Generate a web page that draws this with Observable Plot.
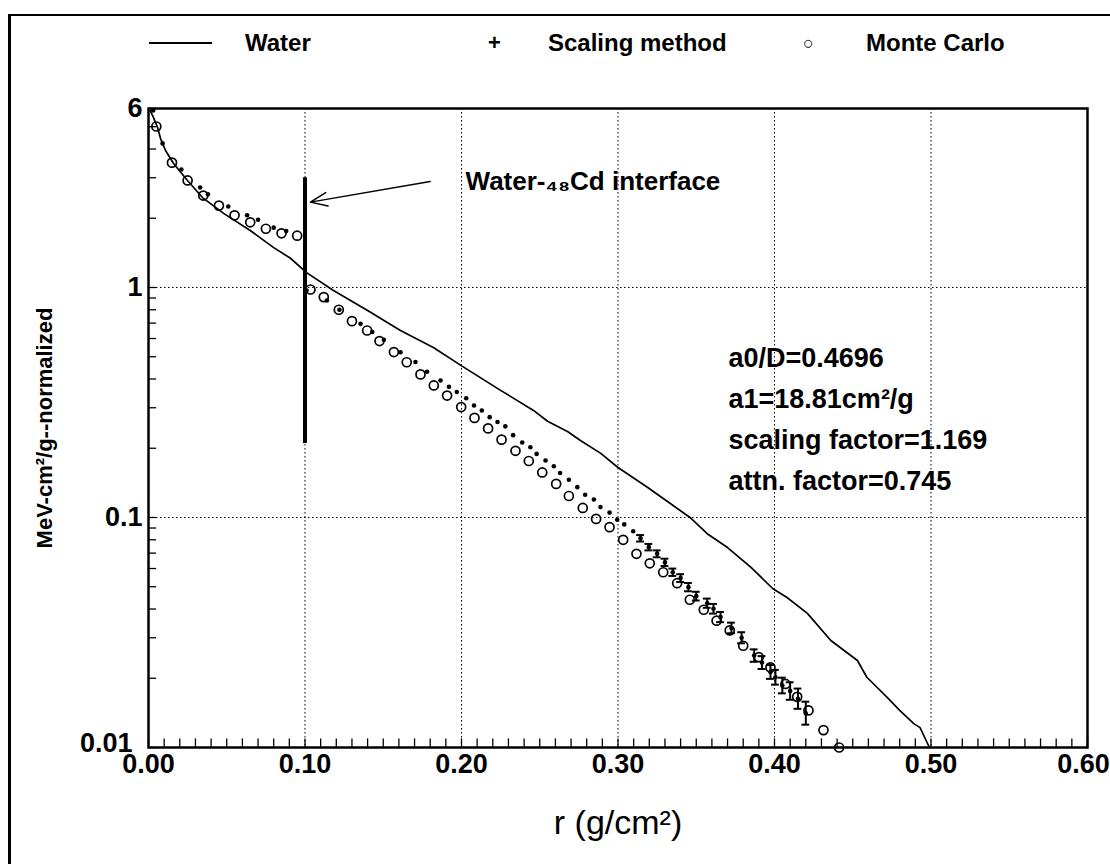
<!DOCTYPE html>
<html>
<head>
<meta charset="utf-8">
<script src="https://cdn.jsdelivr.net/npm/d3@7"></script>
<script src="https://cdn.jsdelivr.net/npm/@observablehq/plot@0.6"></script>
<style>
  html, body { margin: 0; padding: 0; background: #fff; }
  #wrap { position: relative; width: 1110px; height: 864px; overflow: hidden; font-family: "Liberation Sans", Arial, sans-serif; }
  #border { position: absolute; left: 8px; top: 14px; width: 1110px; height: 900px; border-left: 3px solid #000; border-top: 2px solid #000; }
  .leg { position: absolute; top: 29px; line-height: 28px; font-size: 24px; font-weight: bold; color: #000; white-space: nowrap; }
  #legline { position: absolute; left: 149px; top: 42px; width: 63px; border-top: 2px solid #000; }
  #chart { position: absolute; left: 0; top: 80px; }
</style>
</head>
<body>
<div id="wrap">
  <div id="border"></div>
  <div id="legline"></div>
  <div class="leg" style="left:245px">Water</div>
  <div class="leg" style="left:488px;font-size:22px">+</div>
  <div class="leg" style="left:548px">Scaling method</div>
  <div class="leg" style="left:803px;font-size:18px;font-weight:normal">○</div>
  <div class="leg" style="left:866px">Monte Carlo</div>
  <div id="chart"></div>
</div>
<script>
// ---- data ----
const waterR = [0.001,0.0032,0.0058,0.0077,0.0109,0.016,0.0249,0.0345,0.048,0.065,0.080,0.0907,0.101,0.1182,0.140,0.161,0.182,0.2006,0.225,0.246,0.255,0.268,0.276,0.289,0.300,0.319,0.335,0.346,0.357,0.370,0.385,0.399,0.408,0.421,0.436,0.453,0.459,0.472,0.480,0.489,0.493,0.499];
const waterV = [5.9,5.48,4.96,4.44,3.94,3.46,2.92,2.46,2.10,1.77,1.49,1.34,1.16,0.97,0.794,0.65,0.548,0.454,0.357,0.292,0.262,0.236,0.216,0.19,0.165,0.135,0.113,0.1,0.085,0.074,0.0607,0.049,0.0449,0.0383,0.0292,0.0239,0.0202,0.0165,0.0145,0.0127,0.0122,0.0100];

const scaleR = [0.003,0.009,0.021,0.033,0.038,0.051,0.063,0.070,0.080,0.088,
  0.101,0.114,0.122,0.1355,0.143,0.1504,0.161,0.1706,0.178,0.1866,0.192,0.197,0.203,0.208,0.213,0.218,0.223,0.228,0.233,0.2388,0.244,0.248,0.2537,0.259,0.263,0.2686,0.274,0.279,0.2846,0.2888,0.2946,0.2995,0.304,0.3097,
  0.3144,0.3197,0.325,0.330,0.335,0.340,0.345,0.350,0.357,0.361,0.3655,0.3725,0.379,0.387,0.392,0.3974,0.4006,0.405,0.410,0.415,0.420];
const scaleV = [5.88,4.23,3.26,2.72,2.54,2.25,2.06,1.97,1.82,1.76,
  0.97,0.878,0.80,0.695,0.64,0.593,0.523,0.474,0.43,0.394,0.37,0.351,0.33,0.307,0.292,0.273,0.26,0.249,0.228,0.212,0.202,0.189,0.177,0.167,0.156,0.146,0.1355,0.1256,0.1197,0.111,0.105,0.0977,0.0933,0.0871,
  0.0812,0.0743,0.0695,0.0638,0.0578,0.0545,0.0498,0.0455,0.0424,0.0401,0.0369,0.0331,0.030,0.0251,0.0234,0.0213,0.0202,0.0186,0.0176,0.0163,0.0141];
// error bar half-widths (decades) for the scaling points that carry one
const scaleErr = [null,null,null,null,null,null,null,null,null,null,
  null,null,null,null,null,null,null,null,null,null,null,null,null,null,null,null,null,null,null,null,null,null,null,null,null,null,null,null,null,null,null,null,null,null,
  0.014,0.014,0.015,0.016,0.016,0.017,0.018,0.019,0.020,0.021,0.022,0.023,0.024,0.027,0.028,0.030,0.032,0.034,0.038,0.044,0.050];

const mcR = [0.005,0.015,0.025,0.035,0.045,0.055,0.065,0.075,0.085,0.095,
  0.1035,0.112,0.1216,0.130,0.1397,0.1476,0.1568,0.165,0.1738,0.1823,0.1908,0.1998,0.2083,0.217,0.2256,0.2345,0.243,0.2516,0.2605,0.2686,0.2775,0.286,0.2946,0.3033,0.3118,0.3203,0.3289,0.3378,0.3459,0.3548,0.363,0.3714,0.380,0.390,0.3974,0.407,0.4145,0.4217,0.4313,0.4413];
const mcV = [5.01,3.49,2.92,2.51,2.27,2.06,1.92,1.80,1.72,1.68,
  0.98,0.908,0.80,0.714,0.65,0.585,0.524,0.473,0.419,0.375,0.339,0.302,0.271,0.244,0.218,0.195,0.176,0.157,0.140,0.124,0.110,0.0986,0.0908,0.080,0.0695,0.0632,0.0578,0.0518,0.0439,0.0397,0.0356,0.0323,0.0277,0.0247,0.0223,0.0189,0.0166,0.0145,0.0119,0.0100];

const xTicks = [0, 0.1, 0.2, 0.3, 0.4, 0.5, 0.6];
const yTicks = [0.01, 0.1, 1, 6];
const xGrid = [0.1, 0.2, 0.3, 0.4, 0.5];
const yGrid = [0.1, 1];
const interfaceX = 0.1, interfaceTop = 3.0, interfaceBottom = 0.21;
const interfaceLabel = "Water-₄₈Cd interface";
const annotLines = ["a0/D=0.4696", "a1=18.81cm²/g", "scaling factor=1.169", "attn. factor=0.745"];
const xLabel = "r (g/cm²)";
const yLabel = "MeV-cm²/g--normalized";

// ---- tables ----
const water = waterR.map((r, i) => ({r, v: waterV[i]}));
const scaling = scaleR.map((r, i) => ({r, v: scaleV[i], e: scaleErr[i]}));
const errs = scaling.filter(d => d.e != null).map(d => ({r: d.r, lo: d.v * Math.pow(10, -d.e), hi: d.v * Math.pow(10, d.e)}));
const mc = mcR.map((r, i) => ({r, v: mcV[i]}));
const xMinor = d3.range(0, 61).map(i => i / 100);
const yMinor = [];
for (const dec of [0.01, 0.1, 1]) for (let k = 1; k <= 9; k++) { const v = dec * k; if (v <= 6.0001) yMinor.push(v); }

const font = "'Liberation Sans', Arial, sans-serif";
const tickStyle = {tickSize: 0, fontSize: 27, fontWeight: "bold", label: null};

const chart = Plot.plot({
  width: 1110,
  height: 784,
  marginTop: 28,
  marginBottom: 117,
  marginLeft: 148,
  marginRight: 23,
  style: {fontFamily: font, background: "transparent", overflow: "visible", color: "#000"},
  x: {domain: [0, 0.6]},
  y: {type: "log", domain: [0.01, 6]},
  marks: [
    Plot.ruleX(xGrid, {stroke: "#000", strokeWidth: 1, strokeDasharray: "1.5,2.5"}),
    Plot.ruleY(yGrid, {stroke: "#000", strokeWidth: 1, strokeDasharray: "1.5,2.5"}),
    // minor ticks (inside the frame)
    Plot.ruleX(xMinor, {y1: 0.01, y2: 0.0109, stroke: "#000", strokeWidth: 1.3}),
    Plot.ruleY(yMinor, {x1: 0, x2: 0.0052, stroke: "#000", strokeWidth: 1.3}),
    Plot.axisX(xTicks.slice(0, 6), {...tickStyle, tickPadding: 6, tickFormat: d3.format(".2f")}),
    Plot.axisX(xTicks.slice(6), {...tickStyle, tickPadding: 6, dx: -4, tickFormat: d3.format(".2f")}),
    Plot.axisY(yTicks.slice(1), {...tickStyle, tickPadding: 6, tickFormat: d => String(d)}),
    Plot.axisY(yTicks.slice(0, 1), {...tickStyle, tickPadding: 6, dx: -10, dy: -4, tickFormat: d => String(d)}),
    Plot.frame({stroke: "#000", strokeWidth: 2.5}),
    // interface
    Plot.ruleX([interfaceX], {y1: interfaceTop, y2: interfaceBottom, stroke: "#000", strokeWidth: 4}),
    Plot.arrow([0], {x1: 0.18, y1: 2.89, x2: 0.1035, y2: 2.35, stroke: "#000", strokeWidth: 1.5, headLength: 18, headAngle: 45}),
    Plot.text([interfaceLabel], {x: 0.2026, y: 2.89, text: d => d, textAnchor: "start", fontSize: 26, fontWeight: "bold", fill: "#000"}),
    // data
    Plot.line(water, {x: "r", y: "v", stroke: "#000", strokeWidth: 1.7}),
    Plot.ruleX(errs, {x: "r", y1: "lo", y2: "hi", stroke: "#000", strokeWidth: 2}),
    Plot.ruleY(errs, {y: "lo", x1: d => d.r - 0.0025, x2: d => d.r + 0.0025, stroke: "#000", strokeWidth: 2}),
    Plot.ruleY(errs, {y: "hi", x1: d => d.r - 0.0025, x2: d => d.r + 0.0025, stroke: "#000", strokeWidth: 2}),
    Plot.dot(scaling, {x: "r", y: "v", r: 2.3, fill: "#000", stroke: "none"}),
    Plot.dot(mc, {x: "r", y: "v", r: 4.5, fill: "none", stroke: "#000", strokeWidth: 1.7}),
    // annotation block
    Plot.text([annotLines.join("\n")], {x: 0.3706, y: 0.2777, text: d => d, textAnchor: "start", lineAnchor: "middle", lineHeight: 1.52, fontSize: 27, fontWeight: "bold", fill: "#000"}),
    // axis titles
    Plot.text([xLabel], {frameAnchor: "bottom", dy: 86, text: d => d, fontSize: 34, fill: "#000"}),
    Plot.text([yLabel], {frameAnchor: "left", dx: -104, rotate: -90, textAnchor: "middle", text: d => d, fontSize: 22, fontWeight: "bold", fill: "#000"})
  ]
});
document.getElementById("chart").appendChild(chart);
</script>
</body>
</html>
